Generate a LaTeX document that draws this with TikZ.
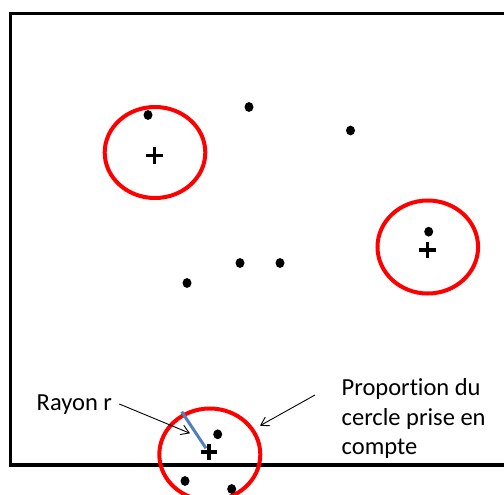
\documentclass[tikz,border=0pt]{standalone}
\usepackage{fontspec}
\setmainfont[Ligatures={NoCommon}]{Carlito}
\usetikzlibrary{arrows.meta}
\definecolor{ored}{RGB}{255,0,0}
\definecolor{oblue}{RGB}{79,129,189}
\begin{document}
\begin{tikzpicture}[x=1pt,y=-1pt,
  zone/.style={draw=ored,line width=4pt},
  pt/.style={fill=black,draw=none},
  centre/.style={draw=black,line width=3.2pt},
  lbl/.style={inner sep=0pt,font=\fontsize{24.5pt}{29.5pt}\selectfont,align=left},
  ptr/.style={draw=black,line width=0.9pt,-{Straight Barb[length=8pt,width=10pt]}}]
\useasboundingbox (0,0) rectangle (504,495);
\draw[line width=3.6pt] (530,13.5) -- (10.3,13.5) -- (10.3,465) -- (530,465);
% circles
\draw[zone] (155,152.5) ellipse [x radius=50.3, y radius=45.5];
\draw[zone] (427.8,247) ellipse [x radius=50.3, y radius=46.5];
\draw[zone] (209.8,454.5) ellipse [x radius=50.5, y radius=46];
% centres
\foreach \cx/\cy in {154.3/155.7, 427.7/250, 209/452}{
  \draw[centre] (\cx-8.3,\cy) -- (\cx+8.3,\cy);
  \draw[centre] (\cx,\cy-8.3) -- (\cx,\cy+8.3);
}
% points
\foreach \px/\py in {148/115, 249/107, 350.5/130.5, 240/263, 280/263, 187/283, 428.7/231.7, 217.7/434.3, 185/481, 231.7/489}{
  \fill[pt] (\px,\py) ellipse [x radius=4.5, y radius=4.9];
}
% radius
\draw[oblue,line width=3pt] (181.7,411.7) -- (206,448.3);
% labels
\node[lbl,anchor=base west] (ray) at (36.5,410) {Rayon r};
\node[lbl,anchor=north west] (prop) at (341.5,378.5) {Proportion du\\cercle prise en\\compte};
\coordinate (a1s) at (119.3,404);
\coordinate (a1e) at (190,433.3);
\coordinate (a2s) at (315,395);
\coordinate (a2e) at (260,425.7);
\draw[ptr] (a1s) -- (a1e);
\draw[ptr] (a2s) -- (a2e);
\end{tikzpicture}
\end{document}
